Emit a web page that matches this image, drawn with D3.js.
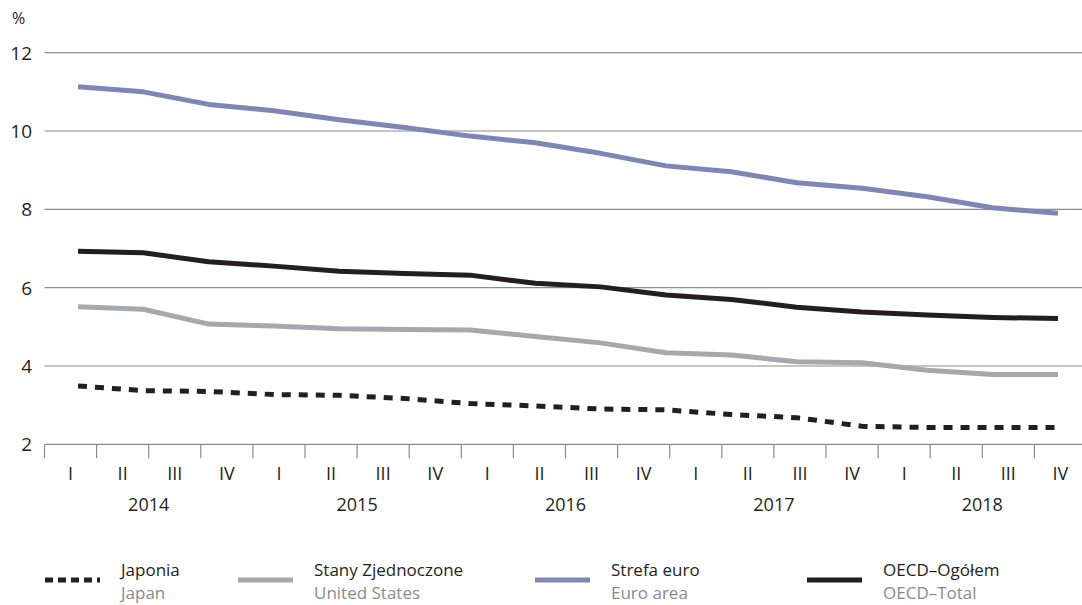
<!DOCTYPE html>
<html>
<head>
<meta charset="utf-8">
<script src="https://cdn.jsdelivr.net/npm/d3@7/dist/d3.min.js"></script>
<style>
  html, body { margin: 0; padding: 0; background: #fff; }
  svg { display: block; font-family: "Open Sans", Lato, sans-serif; }
</style>
</head>
<body>
<svg id="chart" width="1082" height="605"></svg>
<script>
// ---- data ----
const years = ["2014", "2015", "2016", "2017", "2018"];
const quarters = ["I", "II", "III", "IV"];
const yTicks = [2, 4, 6, 8, 10, 12];
const japan = [3.49, 3.37, 3.35, 3.27, 3.25, 3.17, 3.04, 2.98, 2.90, 2.88, 2.76, 2.68, 2.46, 2.43, 2.43, 2.43];
const unitedStates = [5.51, 5.45, 5.07, 5.02, 4.95, 4.93, 4.92, 4.75, 4.59, 4.34, 4.28, 4.11, 4.08, 3.89, 3.78, 3.78];
const euroArea = [11.13, 11.00, 10.68, 10.52, 10.29, 10.09, 9.87, 9.70, 9.43, 9.11, 8.96, 8.68, 8.54, 8.32, 8.04, 7.90];
const oecdTotal = [6.93, 6.89, 6.66, 6.55, 6.42, 6.36, 6.32, 6.11, 6.02, 5.81, 5.70, 5.50, 5.38, 5.30, 5.24, 5.21];
const seriesNames = [["Japonia", "Japan"], ["Stany Zjednoczone", "United States"], ["Strefa euro", "Euro area"], ["OECD\u2013Og\u00f3\u0142em", "OECD\u2013Total"]];

// ---- layout ----
const svg = d3.select("#chart");
const plotLeft = 44.5, plotRight = 1082, bandWidth = 52.1;
const yTop = 52.7, yBottom = 444.3;

const periods = [];
years.forEach(y => quarters.forEach(q => periods.push(y + "-" + q)));

const xBand = d3.scaleBand().domain(periods).range([plotLeft, plotLeft + bandWidth * periods.length]);
const xLine = d3.scaleLinear().domain([0, japan.length - 1]).range([78, 1058]);
const y = d3.scaleLinear().domain([2, 12]).range([yBottom, yTop]);

const gridColor = "#8c8c8c";
const textColor = "#231f20";

// gridlines
svg.append("g").selectAll("line").data(yTicks).join("line")
  .attr("x1", plotLeft).attr("x2", plotRight)
  .attr("y1", d => y(d)).attr("y2", d => y(d))
  .attr("stroke", gridColor).attr("stroke-width", 1.2);

// y labels
svg.append("g").selectAll("text").data(yTicks).join("text")
  .attr("x", 32).attr("y", d => y(d)).attr("dy", "0.36em")
  .attr("text-anchor", "end").attr("font-size", 19).attr("fill", textColor)
  .text(d => d);
svg.append("text").attr("x", 12).attr("y", 24).attr("font-size", 16).attr("fill", textColor).text("%");

// x axis ticks (band boundaries)
svg.append("g").selectAll("line").data(periods).join("line")
  .attr("x1", d => xBand(d)).attr("x2", d => xBand(d))
  .attr("y1", yBottom).attr("y2", yBottom + 14)
  .attr("stroke", gridColor).attr("stroke-width", 1.2);

// quarter labels
svg.append("g").selectAll("text").data(periods).join("text")
  .attr("x", d => xBand(d) + xBand.bandwidth() / 2).attr("y", 474).attr("dy", "0.36em")
  .attr("text-anchor", "middle").attr("font-size", 18).attr("fill", textColor)
  .text(d => d.split("-")[1]);

// year labels
svg.append("g").selectAll("text").data(years).join("text")
  .attr("x", d => xBand(d + "-III"))
  .attr("y", 505).attr("dy", "0.36em")
  .attr("text-anchor", "middle").attr("font-size", 18).attr("fill", textColor)
  .text(d => d);

// lines
const line = d3.line().x((d, i) => xLine(i)).y(d => y(d)).curve(d3.curveLinear);
const styles = [
  { data: japan, color: "#231f20", dash: "9,8" },
  { data: unitedStates, color: "#a7a8ac", dash: null },
  { data: euroArea, color: "#7e86b8", dash: null },
  { data: oecdTotal, color: "#231f20", dash: null }
];
const drawOrder = [2, 1, 3, 0];
drawOrder.forEach(k => {
  const s = styles[k];
  svg.append("path").datum(s.data)
    .attr("d", line)
    .attr("fill", "none")
    .attr("stroke", s.color)
    .attr("stroke-width", 5)
    .attr("stroke-linejoin", "round")
    .attr("stroke-dasharray", s.dash);
});

// legend
const legendX = [45, 238, 535, 807];
const legend = svg.append("g");
seriesNames.forEach((names, i) => {
  const s = styles[i];
  const x0 = legendX[i];
  legend.append("line")
    .attr("x1", x0).attr("x2", x0 + 55)
    .attr("y1", 580).attr("y2", 580)
    .attr("stroke", s.color).attr("stroke-width", 5)
    .attr("stroke-dasharray", s.dash ? "8,5" : null);
  legend.append("text").attr("x", x0 + 76).attr("y", 576)
    .attr("font-size", 17).attr("fill", textColor).text(names[0]);
  legend.append("text").attr("x", x0 + 76).attr("y", 599)
    .attr("font-size", 17).attr("fill", "#8a8a8c").text(names[1]);
});
</script>
</body>
</html>
